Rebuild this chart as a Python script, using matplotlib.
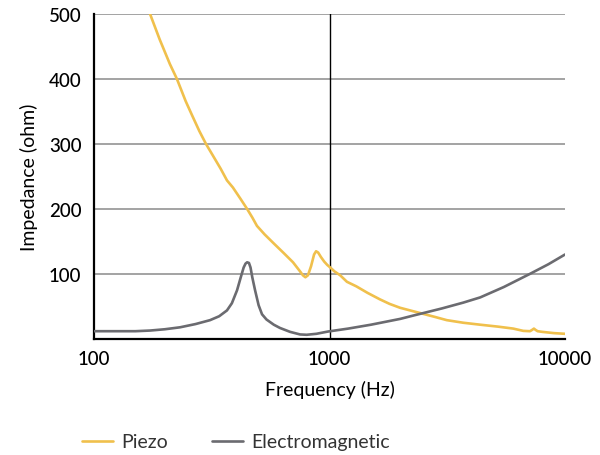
import matplotlib
matplotlib.use("Agg")
import matplotlib.pyplot as plt
from matplotlib.ticker import FixedLocator, FixedFormatter, NullLocator

plt.rcParams['font.family'] = ['Lato', 'DejaVu Sans']

# Piezo impedance readings
piezo_f = [173, 190, 210, 225, 245, 261, 280, 299, 320, 345, 367, 389, 420, 447, 470, 492,
           530, 580, 640, 700, 750, 771, 790, 810, 835, 860, 877, 895, 920, 950, 978, 1000,
           1050, 1110, 1186, 1300, 1450, 1637, 1800, 1995, 2421, 2800, 3147, 3700, 4365,
           5200, 6030, 6650, 7100, 7250, 7380, 7500, 7650, 8000, 9000, 10000]
piezo_z = [500, 461, 423, 400, 366, 344, 320, 300, 282, 262, 244, 233, 215, 200, 187, 174,
           161, 147, 132, 118, 104, 98, 95, 98, 112, 130, 135, 133, 126, 119, 114, 111,
           104, 98, 88, 81, 71, 61, 54, 48, 40, 34, 29, 25, 22,
           19, 16, 12.5, 12, 14, 16, 14, 12, 11, 9, 8]

# Electromagnetic impedance readings
em_f = [100, 150, 173, 200, 232, 270, 311, 340, 367, 385, 405, 420, 432, 440, 447, 455,
        462, 470, 483, 500, 517, 540, 580, 616, 680, 750, 800, 880, 986, 1200, 1500,
        2000, 2265, 3000, 3700, 4365, 5500, 7080, 8500, 10000]
em_z = [12, 12, 13, 15, 18, 23, 29, 35, 44, 55, 75, 95, 110, 116, 118, 117,
        110, 95, 75, 52, 38, 30, 22, 17, 11, 7, 6.5, 8, 11.5, 16, 22,
        31, 36, 47, 56, 64, 80, 100, 115, 130]

x_ticks = [100, 1000, 10000]
x_tick_labels = ["100", "1000", "10000"]
y_ticks = [100, 200, 300, 400, 500]
y_tick_labels = ["100", "200", "300", "400", "500"]

yellow = "#F0C04C"
gray = "#6B6B70"

fig = plt.figure(figsize=(6, 4.56), dpi=100)
ax = fig.add_axes([94/600, 1 - 340/456, (565-94)/600, (340-15)/456])

ax.set_xscale('log')
ax.set_xlim(100, 10000)
ax.set_ylim(0, 500)

for y in y_ticks:
    ax.axhline(y, color="#8A8A8A", lw=1.1, zorder=0)
ax.axvline(1000, color="black", lw=1.0, zorder=1)

ax.plot(piezo_f, piezo_z, color=yellow, lw=1.9, label="Piezo", zorder=3,
        solid_joinstyle='round', solid_capstyle='round')
ax.plot(em_f, em_z, color=gray, lw=1.9, label="Electromagnetic", zorder=3,
        solid_joinstyle='round', solid_capstyle='round')

ax.xaxis.set_major_locator(FixedLocator(x_ticks))
ax.xaxis.set_major_formatter(FixedFormatter(x_tick_labels))
ax.xaxis.set_minor_locator(NullLocator())
ax.yaxis.set_major_locator(FixedLocator(y_ticks))
ax.yaxis.set_major_formatter(FixedFormatter(y_tick_labels))
ax.tick_params(axis='both', length=0, labelsize=13.5, colors='black')
ax.tick_params(axis='y', pad=9)
ax.tick_params(axis='x', pad=8)
for lab in ax.get_xticklabels() + ax.get_yticklabels():
    lab.set_fontweight('medium')

for s in ['top', 'right']:
    ax.spines[s].set_visible(False)
for s in ['left', 'bottom']:
    ax.spines[s].set_color('black')
    ax.spines[s].set_linewidth(1.6)

ax.set_xlabel("Frequency (Hz)", fontsize=14, labelpad=9)
ax.set_ylabel("Impedance (ohm)", fontsize=14, labelpad=8)

fig.legend(loc='center left', bbox_to_anchor=(82/600, 1 - 443/456), ncol=2,
           frameon=False, fontsize=14, handlelength=1.6, handletextpad=0.4,
           columnspacing=2.3, borderpad=0, borderaxespad=0, labelcolor='#333333')

fig.savefig("out.png", dpi=100)
